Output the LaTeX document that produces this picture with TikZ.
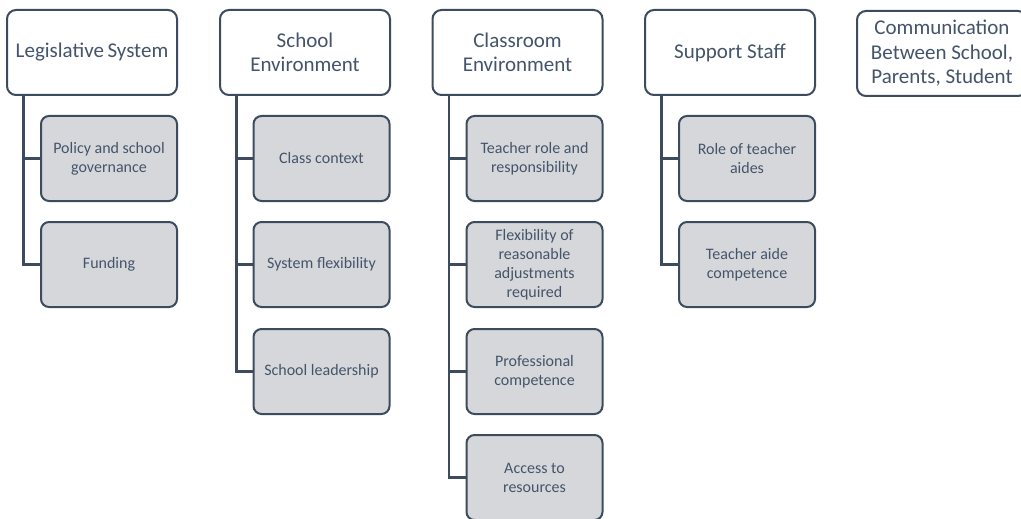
\documentclass[tikz,border=0pt]{standalone}
\usepackage{fontspec}
\setmainfont{Carlito}
\definecolor{slate}{HTML}{44546A}
\definecolor{edge}{HTML}{3D4B5E}
\definecolor{subfill}{HTML}{D6D7DA}
\begin{document}
\begin{tikzpicture}[x=1pt,y=-1pt,
  topbox/.style={draw=edge,line width=2pt,rounded corners=9pt,fill=white,
    minimum width=170pt,minimum height=85pt,align=center,text=slate,
    font=\fontsize{21}{23.5}\selectfont,inner sep=2pt},
  subbox/.style={draw=edge,line width=2pt,rounded corners=8pt,fill=subfill,
    minimum width=136pt,minimum height=85pt,align=center,text=slate,
    font=\fontsize{16}{19}\selectfont,inner sep=2pt},
  trunk/.style={draw=edge,line width=2.6pt}]
\useasboundingbox (0,0) rectangle (1021,519);
\begin{scope}
\clip (0,0) rectangle (1021,519);
% top boxes
\node[topbox] (leg) at (92,52.5) {Legislative\,System};
\node[topbox] (sch) at (305,52.5) {School\\Environment};
\node[topbox] (cls) at (517.5,52.5) {Classroom\\Environment};
\node[topbox] (sup) at (730,52.5) {Support Staff};
\node[topbox,font=\fontsize{21}{24.5}\selectfont] (com) at (942,53.5) {Communication\\Between School,\\Parents, Student};
% children
\node[subbox] (leg1) at (109,158.5) {Policy and school\\governance};
\node[subbox] (leg2) at (109,264.5) {Funding};
\node[subbox] (sch1) at (321.5,158.5) {Class context};
\node[subbox] (sch2) at (321.5,264.5) {System flexibility};
\node[subbox] (sch3) at (321.5,371.5) {School leadership};
\node[subbox] (cls1) at (534.5,158.5) {Teacher role and\\responsibility};
\node[subbox] (cls2) at (534.5,264.5) {Flexibility of\\reasonable\\adjustments\\required};
\node[subbox] (cls3) at (534.5,371.5) {Professional\\competence};
\node[subbox] (cls4) at (534.5,477.5) {Access to\\resources};
\node[subbox] (sup1) at (747,158.5) {Role of teacher\\aides};
\node[subbox] (sup2) at (747,264.5) {Teacher aide\\competence};
% connectors
\foreach \p/\c in {leg/leg1,leg/leg2,sch/sch1,sch/sch2,sch/sch3,cls/cls1,cls/cls2,cls/cls3,cls/cls4,sup/sup1,sup/sup2}{
  \draw[trunk] (\p.south west) ++(17.5,-1) |- (\c.west);
}
\end{scope}
\end{tikzpicture}
\end{document}
